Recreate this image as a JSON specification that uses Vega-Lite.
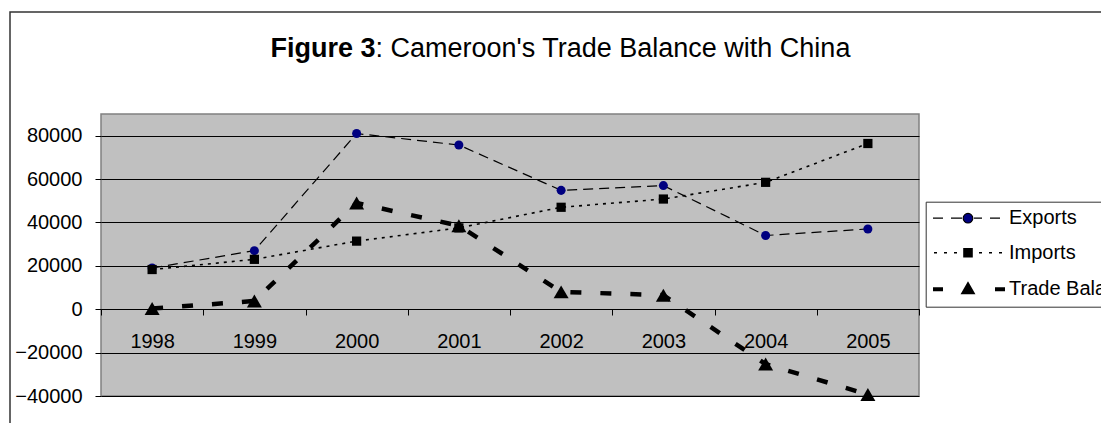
{
  "$schema": "https://vega.github.io/schema/vega-lite/v6.json",
  "width": 818,
  "height": 282,
  "autosize": {"type": "none"},
  "padding": {"left": 101, "top": 114, "right": 182, "bottom": 27},
  "background": "white",
  "config": {
    "font": "Liberation Sans",
    "view": {"fill": "#c0c0c0", "stroke": "#808080", "strokeWidth": 1.5}
  },
  "data": {
    "values": [
      {"year": "1998", "series": "Exports", "value": 19000},
      {"year": "1999", "series": "Exports", "value": 27000},
      {"year": "2000", "series": "Exports", "value": 81000},
      {"year": "2001", "series": "Exports", "value": 75700},
      {"year": "2002", "series": "Exports", "value": 54800},
      {"year": "2003", "series": "Exports", "value": 57000},
      {"year": "2004", "series": "Exports", "value": 34000},
      {"year": "2005", "series": "Exports", "value": 37000},
      {"year": "1998", "series": "Imports", "value": 18300},
      {"year": "1999", "series": "Imports", "value": 23000},
      {"year": "2000", "series": "Imports", "value": 31400},
      {"year": "2001", "series": "Imports", "value": 37500},
      {"year": "2002", "series": "Imports", "value": 47000},
      {"year": "2003", "series": "Imports", "value": 50800},
      {"year": "2004", "series": "Imports", "value": 58500},
      {"year": "2005", "series": "Imports", "value": 76400},
      {"year": "1998", "series": "Trade Balance", "value": 300},
      {"year": "1999", "series": "Trade Balance", "value": 3800},
      {"year": "2000", "series": "Trade Balance", "value": 49000},
      {"year": "2001", "series": "Trade Balance", "value": 38500},
      {"year": "2002", "series": "Trade Balance", "value": 8000},
      {"year": "2003", "series": "Trade Balance", "value": 6500},
      {"year": "2004", "series": "Trade Balance", "value": -25300},
      {"year": "2005", "series": "Trade Balance", "value": -39300}
    ]
  },
  "encoding": {
    "x": {
      "field": "year",
      "type": "ordinal",
      "bandPosition": 0.5,
      "scale": {"type": "band", "paddingInner": 0, "paddingOuter": 0},
      "axis": {
        "title": ": Cameroon's Trade Balance with China",
        "titleX": 274,
        "titleY": -253,
        "titleAlign": "left",
        "titleAnchor": "start",
        "titleBaseline": "alphabetic",
        "titleAngle": 0,
        "titleFont": "Liberation Sans",
        "titleFontSize": 27,
        "titleFontWeight": "normal",
        "titleColor": "#000",
        "orient": "bottom",
        "offset": -87,
        "tickBand": "extent",
        "labelAngle": 0,
        "labelFontSize": 20,
        "labelColor": "#000",
        "labelPadding": 16,
        "tickSize": 6,
        "tickColor": "#000",
        "domainColor": "#000",
        "grid": false
      }
    },
    "y": {
      "field": "value",
      "type": "quantitative",
      "scale": {"domain": [-40000, 90000], "nice": false, "zero": false},
      "axis": {
        "title": "Figure 3",
        "titleX": 169,
        "titleY": -58,
        "titleAlign": "left",
        "titleAnchor": "start",
        "titleBaseline": "alphabetic",
        "titleAngle": 0,
        "titleFont": "Liberation Sans",
        "titleFontSize": 27,
        "titleFontWeight": "bold",
        "titleColor": "#000",
        "values": [-40000, -20000, 0, 20000, 40000, 60000, 80000],
        "format": "d",
        "grid": true,
        "gridColor": "#000",
        "gridWidth": 1,
        "domain": false,
        "tickSize": 6,
        "tickColor": "#000",
        "labelFontSize": 20,
        "labelColor": "#000",
        "labelPadding": 13
      }
    }
  },
  "layer": [
    {
      "transform": [{"filter": "datum.series === 'Exports'"}],
      "mark": {"type": "line", "stroke": "#000", "strokeWidth": 1.2, "strokeDash": [10, 6]}
    },
    {
      "transform": [{"filter": "datum.series === 'Imports'"}],
      "mark": {"type": "line", "stroke": "#000", "strokeWidth": 1.6, "strokeDash": [3, 5]}
    },
    {
      "transform": [{"filter": "datum.series === 'Trade Balance'"}],
      "mark": {"type": "line", "stroke": "#000", "strokeWidth": 4.5, "strokeDash": [11, 19]}
    },
    {
      "transform": [{"filter": "datum.series === 'Exports'"}],
      "mark": {"type": "point", "shape": "circle", "filled": true, "fill": "#000080", "size": 82, "opacity": 1}
    },
    {
      "transform": [{"filter": "datum.series === 'Imports'"}],
      "mark": {"type": "point", "shape": "square", "filled": true, "fill": "#000", "size": 85, "opacity": 1}
    },
    {
      "transform": [{"filter": "datum.series === 'Trade Balance'"}],
      "mark": {"type": "point", "shape": "triangle-up", "filled": true, "fill": "#000", "size": 225, "opacity": 1}
    },
    {
      "mark": {"type": "point", "filled": true, "fill": "#000", "opacity": 0},
      "encoding": {
        "shape": {
          "field": "series",
          "type": "nominal",
          "scale": {
            "domain": ["Exports", "Imports", "Trade Balance"],
            "range": [
              "M-3.5,0H-2.5M-1.7,0H-0.6M0.6,0H1.4M2.2,0H3.2M0.48,0A0.48,0.48,0,1,1,-0.48,0A0.48,0.48,0,1,1,0.48,0Z",
              "M-3.4,0H-3.1M-2.4,0H-2.1M-1.4,0H-1.1M1.1,0H1.4M2.1,0H2.4M3.1,0H3.4M-0.4,-0.4H0.4V0.4H-0.4Z",
              "M-3.5,0H-2.5M2.7,0H3.7M0,-0.4L0.4,0.3H-0.4Z"
            ]
          },
          "legend": {
            "title": null,
            "orient": "none",
            "legendX": 824.7,
            "legendY": 87.7,
            "padding": 6.5,
            "strokeColor": "#333",
            "fillColor": "white",
            "symbolSize": 400,
            "symbolOffset": 25.8,
            "labelOffset": 31,
            "rowPadding": 14.5,
            "labelFont": "Liberation Sans",
            "labelFontSize": 20,
            "labelColor": "#000",
            "labelLimit": 300,
            "symbolOpacity": 1,
            "encoding": {
              "symbols": {
                "fill": {"value": {"expr": "datum.value === 'Exports' ? '#000080' : '#000'"}},
                "stroke": {"value": "#000"},
                "strokeWidth": {"value": {"expr": "datum.value === 'Exports' ? 1.2 : datum.value === 'Imports' ? 1.6 : 4"}},
                "opacity": {"value": 1}
              }
            }
          }
        }
      }
    },
    {
      "mark": {"type": "point", "filled": true, "opacity": 0},
      "encoding": {
        "color": {
          "field": "value",
          "type": "quantitative",
          "legend": {
            "title": null,
            "orient": "none",
            "direction": "horizontal",
            "legendX": -91,
            "legendY": -102,
            "padding": 0,
            "gradientLength": 2000,
            "gradientThickness": 600,
            "gradientStrokeWidth": 0,
            "values": [],
            "labelOpacity": 0,
            "strokeColor": "#333",
            "encoding": {
              "gradient": {"opacity": {"value": 0}},
              "legend": {"strokeWidth": {"value": 1.5}}
            }
          }
        }
      }
    }
  ]
}
